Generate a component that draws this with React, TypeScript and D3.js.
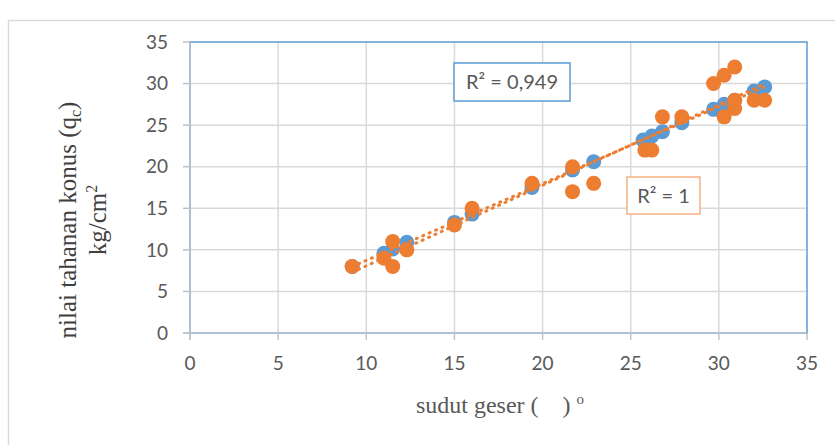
import React from "react";
import * as d3 from "d3";

const xTicks = [0, 5, 10, 15, 20, 25, 30, 35];
const yTicks = [0, 5, 10, 15, 20, 25, 30, 35];

const blueX = [9.2, 11, 11.5, 12.3, 15, 16, 19.4, 21.7, 22.9, 25.7, 26.2, 26.8, 27.9, 29.7, 30.3, 30.9, 32, 32.6];
const blueY = [8, 9.6, 10.1, 10.9, 13.3, 14.3, 17.5, 19.6, 20.6, 23.2, 23.7, 24.2, 25.3, 26.9, 27.5, 28.0, 29.1, 29.6];

const orangeX = [9.2, 11, 11.5, 11.5, 12.3, 15, 16, 19.4, 21.7, 21.7, 22.9, 25.8, 26.2, 26.8, 27.9, 29.7, 30.3, 30.9, 30.3, 30.9, 30.9, 32, 32.6];
const orangeY = [8, 9, 11, 8, 10, 13, 15, 18, 20, 17, 18, 22, 22, 26, 26, 30, 31, 32, 26, 27, 28, 28, 28];

const r2Blue = "R² = 0,949";
const r2Orange = "R² = 1";

const BLUE = "#5B9BD5";
const ORANGE = "#ED7D31";
const TEXT = "#595959";

function fit(xs: number[], ys: number[]) {
  const mx = d3.mean(xs)!;
  const my = d3.mean(ys)!;
  let num = 0, den = 0;
  xs.forEach((x, i) => { num += (x - mx) * (ys[i] - my); den += (x - mx) * (x - mx); });
  const b = num / den;
  const a = my - b * mx;
  const [x0, x1] = d3.extent(xs) as [number, number];
  return [[x0, a + b * x0], [x1, a + b * x1]] as [number, number][];
}

export default function App() {
  const W = 835, H = 445;
  const L = 190, R = 807, T = 42, B = 333;
  const x = d3.scaleLinear().domain([0, 35]).range([L, R]);
  const y = d3.scaleLinear().domain([0, 35]).range([B, T]);
  const line = d3.line<[number, number]>().x(d => x(d[0])).y(d => y(d[1]));
  const blueFit = fit(blueX, blueY);
  const orangeFit = fit(orangeX, orangeY);
  const tickFont = "Lato, 'Open Sans', sans-serif";
  const serif = "'Liberation Serif', 'DejaVu Serif', serif";
  return (
    <svg width={W} height={H} style={{ position: "absolute", left: 0, top: 0, background: "#fff" }}>
      <rect x={8.5} y={20.5} width={840} height={440} fill="#fff" stroke="#D9D9D9" strokeWidth={1.5} />
      {xTicks.slice(1, -1).map(t => (
        <line key={"gx" + t} x1={x(t)} x2={x(t)} y1={T} y2={B} stroke="#D9D9D9" strokeWidth={1.5} />
      ))}
      {yTicks.slice(1, -1).map(t => (
        <line key={"gy" + t} x1={L} x2={R} y1={y(t)} y2={y(t)} stroke="#D9D9D9" strokeWidth={1.5} />
      ))}
      <rect x={L} y={T} width={R - L} height={B - T} fill="none" stroke={BLUE} strokeWidth={1.5} />
      <line x1={L} x2={L} y1={T} y2={B + 7} stroke="#BCC3CC" strokeWidth={1.5} />
      <line x1={L - 7} x2={R} y1={B} y2={B} stroke="#BCC3CC" strokeWidth={1.5} />
      {yTicks.map(t => (
        <line key={"ty" + t} x1={L - 7} x2={L} y1={y(t)} y2={y(t)} stroke="#BCC3CC" strokeWidth={1.5} />
      ))}
      {xTicks.map(t => (
        <line key={"tx" + t} x1={x(t)} x2={x(t)} y1={B} y2={B + 7} stroke="#BCC3CC" strokeWidth={1.5} />
      ))}
      {yTicks.map(t => (
        <text key={"ly" + t} x={168} y={y(t)} dy="0.35em" textAnchor="end" fontFamily={tickFont} fontSize={19} fill={TEXT}>{t}</text>
      ))}
      {xTicks.map(t => (
        <text key={"lx" + t} x={x(t)} y={370} textAnchor="middle" fontFamily={tickFont} fontSize={19} fill={TEXT}>{t}</text>
      ))}
      {blueX.map((v, i) => (
        <circle key={"b" + i} cx={x(v)} cy={y(blueY[i])} r={7.5} fill={BLUE} />
      ))}
      {orangeX.map((v, i) => (
        <circle key={"o" + i} cx={x(v)} cy={y(orangeY[i])} r={7.5} fill={ORANGE} />
      ))}
      <path d={line(blueFit)!} fill="none" stroke={ORANGE} strokeWidth={3} strokeDasharray="1 6" strokeLinecap="round" />
      <path d={line(orangeFit)!} fill="none" stroke={ORANGE} strokeWidth={3} strokeDasharray="1 6" strokeLinecap="round" />
      <rect x={454} y={63} width={116} height={38} fill="#fff" stroke={BLUE} strokeWidth={1.5} />
      <text x={512} y={82} dy="0.36em" textAnchor="middle" fontFamily={tickFont} fontSize={20} fill={TEXT}>{r2Blue}</text>
      <rect x={627} y={177} width={73} height={37} fill="#fff" stroke="#F4B183" strokeWidth={1.5} />
      <text x={663.5} y={195.5} dy="0.36em" textAnchor="middle" fontFamily={tickFont} fontSize={20} fill={TEXT}>{r2Orange}</text>
      <text x={500} y={413} textAnchor="middle" fontFamily={serif} fontSize={24} fill={TEXT} style={{ whiteSpace: "pre" }}>
        {"sudut geser (    ) "}<tspan dy={-9} fontSize={15}>o</tspan>
      </text>
      <g transform={`translate(76,220) rotate(-90)`}>
        <text x={0} y={0} textAnchor="middle" fontFamily={serif} fontSize={25} fill="#404040">
          nilai tahanan konus (q<tspan dy={5} fontSize={16}>c</tspan><tspan dy={-5}>)</tspan>
        </text>
        <text x={0} y={30} textAnchor="middle" fontFamily={serif} fontSize={25} fill="#404040">
          kg/cm<tspan dy={-9} fontSize={16}>2</tspan>
        </text>
      </g>
    </svg>
  );
}
